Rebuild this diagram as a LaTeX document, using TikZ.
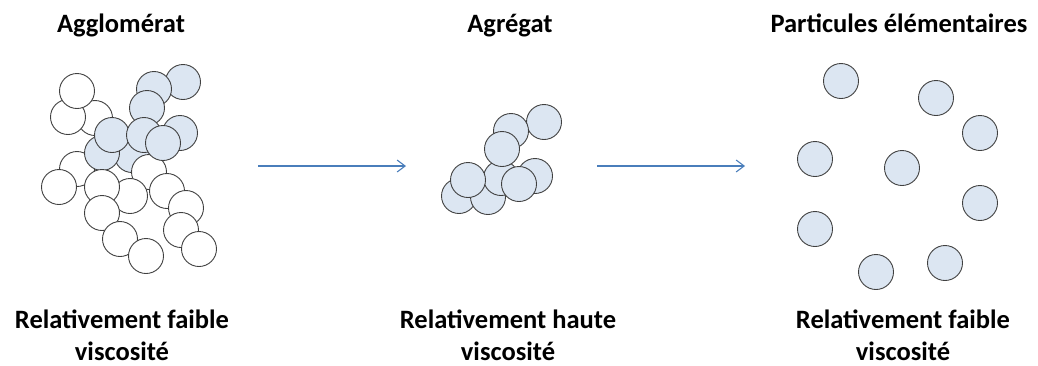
\documentclass[tikz,border=0pt]{standalone}
\usepackage{fontspec}
\setmainfont{Carlito}
\usetikzlibrary{arrows.meta}
\definecolor{pblue}{RGB}{220,230,242}
\definecolor{pline}{RGB}{64,64,64}
\definecolor{arrowblue}{RGB}{74,126,187}
\tikzset{
  wp/.style={circle,draw=pline,line width=0.9pt,fill=white,minimum size=35pt,inner sep=0pt},
  bp/.style={circle,draw=pline,line width=0.9pt,fill=pblue,minimum size=35pt,inner sep=0pt},
  lbl/.style={font=\bfseries\fontsize{26.5}{32}\selectfont,anchor=base,inner sep=0pt},
  flow/.style={draw=arrowblue,line width=1.1pt,-{Straight Barb[length=8pt,width=12pt]}}
}
\begin{document}
\begin{tikzpicture}[x=1pt,y=-1pt]
\useasboundingbox (0,0) rectangle (1038,365);
% headings
\node[lbl] (h1) at (121,32) {Agglomérat};
\node[lbl] (h2) at (510,32) {Agrégat};
\node[lbl] (h3) at (899,32) {Particules élémentaires};
% bottom labels
\node[lbl] (v1a) at (122,328) {Relativement faible};
\node[lbl] (v1b) at (122,360) {viscosité};
\node[lbl] (v2a) at (508,328) {Relativement haute};
\node[lbl] (v2b) at (508,360) {viscosité};
\node[lbl] (v3a) at (903,328) {Relativement faible};
\node[lbl] (v3b) at (903,360) {viscosité};
% agglomerate
\node[wp] (w3) at (95,118) {};
\node[wp] (w2) at (68,117) {};
\node[wp] (w1) at (77,91) {};
\node[wp] (w4) at (77,169) {};
\node[wp] (w5) at (59,187) {};
\node[bp] (b1) at (183,82) {};
\node[bp] (b2) at (154,89) {};
\node[bp] (b3) at (147,108) {};
\node[bp] (b9) at (132,155) {};
\node[bp] (b8) at (102,153) {};
\node[bp] (b7) at (112,135) {};
\node[wp] (w8) at (149,172) {};
\node[bp] (b4) at (144,135) {};
\node[bp] (b5) at (180,133) {};
\node[bp] (b6) at (163,143) {};
\node[wp] (w7) at (130,196) {};
\node[wp] (w6) at (102,187) {};
\node[wp] (w10) at (102,213) {};
\node[wp] (w9) at (167,191) {};
\node[wp] (w11) at (186,208) {};
\node[wp] (w12) at (181,230) {};
\node[wp] (w13) at (120,239) {};
\node[wp] (w14) at (146,256) {};
\node[wp] (w15) at (199,249) {};
% aggregate
\node[bp] (a1) at (544,122) {};
\node[bp] (a2) at (511,131) {};
\node[bp] (a6) at (459,196) {};
\node[bp] (a7) at (488,197) {};
\node[bp] (a5) at (501,178) {};
\node[bp] (a3) at (502,149) {};
\node[bp] (a8) at (468,180) {};
\node[bp] (a4) at (535,176) {};
\node[bp] (a9) at (519,184) {};
% elementary particles
\node[bp] (p1) at (841,81) {};
\node[bp] (p2) at (936,98) {};
\node[bp] (p3) at (980,133) {};
\node[bp] (p4) at (815,159) {};
\node[bp] (p5) at (902,168) {};
\node[bp] (p6) at (980,203) {};
\node[bp] (p7) at (815,229) {};
\node[bp] (p8) at (876,272) {};
\node[bp] (p9) at (945,263) {};
% arrows
\coordinate (s1) at (258,166);
\coordinate (e1) at (406,166);
\coordinate (s2) at (597,166);
\coordinate (e2) at (745,166);
\draw[flow] (s1) -- (e1);
\draw[flow] (s2) -- (e2);
\end{tikzpicture}
\end{document}
